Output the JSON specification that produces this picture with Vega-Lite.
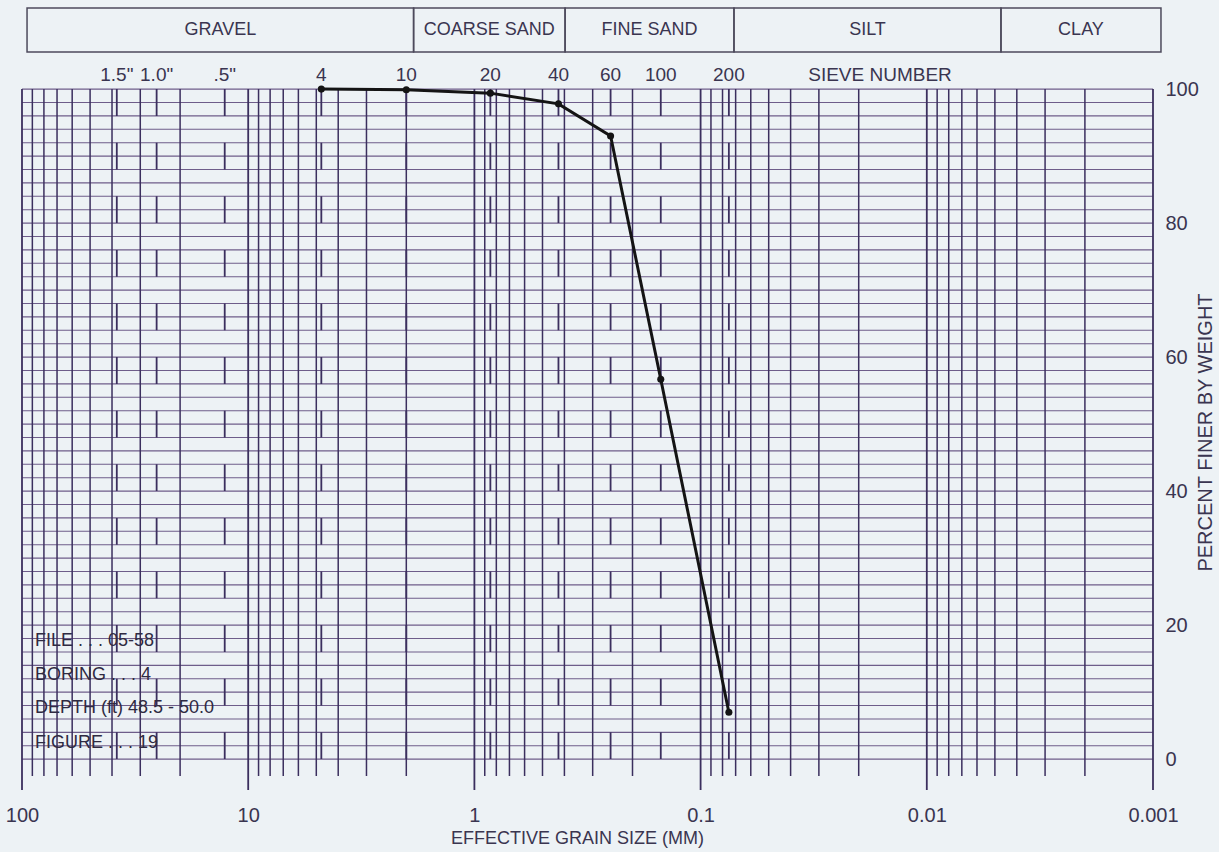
{
  "$schema": "https://vega.github.io/schema/vega-lite/v6.json",
  "width": 1131,
  "height": 800,
  "autosize": {"type": "none"},
  "padding": {"left": 22, "top": 0, "right": 66, "bottom": 52},
  "background": "#edf2f5",
  "config": {"view": {"stroke": null}, "font": "Liberation Sans"},
  "datasets": {
    "zones": [
      {"zone": "GRAVEL", "from": 95, "to": 1.857, "mid": 13.28},
      {"zone": "COARSE SAND", "from": 1.857, "to": 0.3973, "mid": 0.859},
      {"zone": "FINE SAND", "from": 0.3973, "to": 0.0712, "mid": 0.1682},
      {"zone": "SILT", "from": 0.0712, "to": 0.0047, "mid": 0.01829},
      {"zone": "CLAY", "from": 0.0047, "to": 0.000922, "mid": 0.002082}
    ],
    "hlines": [
      {"p": 0}, {"p": 2}, {"p": 4}, {"p": 6}, {"p": 8}, {"p": 10}, {"p": 12}, {"p": 14}, {"p": 16}, {"p": 18},
      {"p": 20}, {"p": 22}, {"p": 24}, {"p": 26}, {"p": 28}, {"p": 30}, {"p": 32}, {"p": 34}, {"p": 36}, {"p": 38},
      {"p": 40}, {"p": 42}, {"p": 44}, {"p": 46}, {"p": 48}, {"p": 50}, {"p": 52}, {"p": 54}, {"p": 56}, {"p": 58},
      {"p": 60}, {"p": 62}, {"p": 64}, {"p": 66}, {"p": 68}, {"p": 70}, {"p": 72}, {"p": 74}, {"p": 76}, {"p": 78},
      {"p": 80}, {"p": 82}, {"p": 84}, {"p": 86}, {"p": 88}, {"p": 90}, {"p": 92}, {"p": 94}, {"p": 96}, {"p": 98},
      {"p": 100}
    ],
    "vlines": [
      {"d": 100, "kind": "major"}, {"d": 10, "kind": "major"}, {"d": 1, "kind": "major"},
      {"d": 0.1, "kind": "major"}, {"d": 0.01, "kind": "major"}, {"d": 0.001, "kind": "major"},
      {"d": 90, "kind": "minor"}, {"d": 80, "kind": "minor"}, {"d": 70, "kind": "minor"}, {"d": 60, "kind": "minor"},
      {"d": 50, "kind": "minor"}, {"d": 40, "kind": "minor"}, {"d": 30, "kind": "minor"}, {"d": 20, "kind": "minor"},
      {"d": 9, "kind": "minor"}, {"d": 8, "kind": "minor"}, {"d": 7, "kind": "minor"}, {"d": 6, "kind": "minor"},
      {"d": 5, "kind": "minor"}, {"d": 4, "kind": "minor"}, {"d": 3, "kind": "minor"}, {"d": 2, "kind": "minor"},
      {"d": 0.9, "kind": "minor"}, {"d": 0.8, "kind": "minor"}, {"d": 0.7, "kind": "minor"}, {"d": 0.6, "kind": "minor"},
      {"d": 0.5, "kind": "minor"}, {"d": 0.4, "kind": "minor"}, {"d": 0.3, "kind": "minor"}, {"d": 0.2, "kind": "minor"},
      {"d": 0.09, "kind": "minor"}, {"d": 0.08, "kind": "minor"}, {"d": 0.07, "kind": "minor"}, {"d": 0.06, "kind": "minor"},
      {"d": 0.05, "kind": "minor"}, {"d": 0.04, "kind": "minor"}, {"d": 0.03, "kind": "minor"}, {"d": 0.02, "kind": "minor"},
      {"d": 0.009, "kind": "minor"}, {"d": 0.008, "kind": "minor"}, {"d": 0.007, "kind": "minor"}, {"d": 0.006, "kind": "minor"},
      {"d": 0.005, "kind": "minor"}, {"d": 0.004, "kind": "minor"}, {"d": 0.003, "kind": "minor"}, {"d": 0.002, "kind": "minor"}
    ],
    "sieves": [
      {"sieve": "1.5\"", "d": 38.1},
      {"sieve": "1.0\"", "d": 25.4},
      {"sieve": ".5\"", "d": 12.7},
      {"sieve": "4", "d": 4.75},
      {"sieve": "10", "d": 2.0},
      {"sieve": "20", "d": 0.85},
      {"sieve": "40", "d": 0.425},
      {"sieve": "60", "d": 0.25},
      {"sieve": "100", "d": 0.15},
      {"sieve": "200", "d": 0.075}
    ],
    "curve": [
      {"d": 4.75, "finer": 100},
      {"d": 2.0, "finer": 99.9},
      {"d": 0.85, "finer": 99.4},
      {"d": 0.425, "finer": 97.8},
      {"d": 0.25, "finer": 93.0},
      {"d": 0.15, "finer": 56.7},
      {"d": 0.075, "finer": 7.0}
    ],
    "notes": [
      {"key": "file", "text": "FILE . . .  05-58"},
      {"key": "boring", "text": "BORING . . .  4"},
      {"key": "depth", "text": "DEPTH (ft)  48.5 - 50.0"},
      {"key": "figure", "text": "FIGURE . . .  19"}
    ]
  },
  "layer": [
    {
      "data": {"name": "hlines"},
      "mark": {"type": "rule", "color": "#6e5d8a", "strokeWidth": 1.1},
      "encoding": {
        "y": {
          "field": "p", "type": "quantitative",
          "scale": {"domain": [-6.1, 113.3], "nice": false, "zero": false},
          "axis": {
            "orient": "right", "values": [0, 20, 40, 60, 80, 100],
            "domain": false, "ticks": false, "grid": false,
            "labelPadding": 12, "labelFontSize": 20, "labelColor": "#3a3550",
            "labelFont": "Liberation Sans",
            "title": "PERCENT FINER BY WEIGHT", "titleFontSize": 20, "titleFontWeight": "normal",
            "titleFont": "Liberation Sans", "titleColor": "#3a3550",
            "titleAngle": 270, "titleX": 52, "titleY": 432, "titleAlign": "center", "titleBaseline": "middle"
          }
        },
        "x": {
          "datum": 100, "type": "quantitative",
          "scale": {"type": "log", "domain": [0.001, 100], "reverse": true},
          "axis": {
            "orient": "bottom", "values": [100, 10, 1, 0.1, 0.01, 0.001], "format": "~g",
            "labelFlush": false, "labelOverlap": false, "labelBound": false,
            "domain": false, "ticks": false, "grid": false,
            "labelPadding": 5, "labelFontSize": 20, "labelColor": "#3a3550", "labelFont": "Liberation Sans",
            "title": "EFFECTIVE GRAIN SIZE (MM)", "titleFontSize": 18, "titleFontWeight": "normal",
            "titleFont": "Liberation Sans", "titleColor": "#3a3550",
            "titleX": 555, "titleY": 38, "titleBaseline": "middle", "titleAlign": "center"
          }
        },
        "x2": {"datum": 0.001}
      }
    },
    {
      "data": {"name": "vlines"},
      "transform": [{"filter": "datum.kind === 'minor'"}],
      "mark": {"type": "rule", "color": "#3b2f5e", "strokeWidth": 1.5},
      "encoding": {
        "x": {"field": "d", "type": "quantitative"},
        "y": {"datum": 100, "type": "quantitative"},
        "y2": {"datum": -2.5}
      }
    },
    {
      "data": {"name": "vlines"},
      "transform": [{"filter": "datum.kind === 'major'"}],
      "mark": {"type": "rule", "color": "#3b2f5e", "strokeWidth": 1.8},
      "encoding": {
        "x": {"field": "d", "type": "quantitative"},
        "y": {"datum": 100, "type": "quantitative"},
        "y2": {"datum": -4.6}
      }
    },
    {
      "data": {"name": "sieves"},
      "mark": {"type": "rule", "color": "#3b2f5e", "strokeWidth": 1.8, "strokeDash": [26.8, 26.8]},
      "encoding": {
        "x": {"field": "d", "type": "quantitative"},
        "y": {"datum": 100, "type": "quantitative"},
        "y2": {"datum": 0}
      }
    },
    {
      "data": {"name": "sieves"},
      "mark": {"type": "text", "fontSize": 19, "color": "#3a3550", "align": "center", "baseline": "middle"},
      "encoding": {
        "x": {"field": "d", "type": "quantitative"},
        "y": {"datum": 102.1, "type": "quantitative"},
        "text": {"field": "sieve"}
      }
    },
    {
      "data": {"name": "sieves"},
      "transform": [{"filter": "datum.sieve === '200'"}],
      "mark": {"type": "text", "fontSize": 19, "color": "#3a3550", "align": "center", "baseline": "middle"},
      "encoding": {
        "x": {"datum": 0.0161, "type": "quantitative"},
        "y": {"datum": 102.1, "type": "quantitative"},
        "text": {"value": "SIEVE NUMBER"}
      }
    },
    {
      "data": {"name": "zones"},
      "mark": {"type": "rect", "fillOpacity": 0, "stroke": "#4d4a5c", "strokeWidth": 1.5},
      "encoding": {
        "x": {"field": "from", "type": "quantitative"},
        "x2": {"field": "to"},
        "y": {"datum": 112.1, "type": "quantitative"},
        "y2": {"datum": 105.55}
      }
    },
    {
      "data": {"name": "zones"},
      "mark": {"type": "text", "fontSize": 18, "color": "#3a3550", "align": "center", "baseline": "middle"},
      "encoding": {
        "x": {"field": "mid", "type": "quantitative"},
        "y": {"datum": 108.8, "type": "quantitative"},
        "text": {"field": "zone"}
      }
    },
    {
      "data": {"name": "curve"},
      "mark": {"type": "line", "color": "#141414", "strokeWidth": 3},
      "encoding": {
        "x": {"field": "d", "type": "quantitative"},
        "y": {"field": "finer", "type": "quantitative"}
      }
    },
    {
      "data": {"name": "curve"},
      "mark": {"type": "circle", "color": "#141414", "size": 50, "opacity": 1},
      "encoding": {
        "x": {"field": "d", "type": "quantitative"},
        "y": {"field": "finer", "type": "quantitative"}
      }
    },
    {
      "data": {"name": "notes"},
      "transform": [{"filter": "datum.key === 'file'"}],
      "mark": {"type": "text", "fontSize": 18, "color": "#2f2a42", "align": "left", "baseline": "middle"},
      "encoding": {
        "x": {"datum": 87.6, "type": "quantitative"},
        "y": {"datum": 17.6, "type": "quantitative"},
        "text": {"field": "text"}
      }
    },
    {
      "data": {"name": "notes"},
      "transform": [{"filter": "datum.key === 'boring'"}],
      "mark": {"type": "text", "fontSize": 18, "color": "#2f2a42", "align": "left", "baseline": "middle"},
      "encoding": {
        "x": {"datum": 87.6, "type": "quantitative"},
        "y": {"datum": 12.55, "type": "quantitative"},
        "text": {"field": "text"}
      }
    },
    {
      "data": {"name": "notes"},
      "transform": [{"filter": "datum.key === 'depth'"}],
      "mark": {"type": "text", "fontSize": 18, "color": "#2f2a42", "align": "left", "baseline": "middle"},
      "encoding": {
        "x": {"datum": 87.6, "type": "quantitative"},
        "y": {"datum": 7.6, "type": "quantitative"},
        "text": {"field": "text"}
      }
    },
    {
      "data": {"name": "notes"},
      "transform": [{"filter": "datum.key === 'figure'"}],
      "mark": {"type": "text", "fontSize": 18, "color": "#2f2a42", "align": "left", "baseline": "middle"},
      "encoding": {
        "x": {"datum": 87.6, "type": "quantitative"},
        "y": {"datum": 2.4, "type": "quantitative"},
        "text": {"field": "text"}
      }
    }
  ]
}
